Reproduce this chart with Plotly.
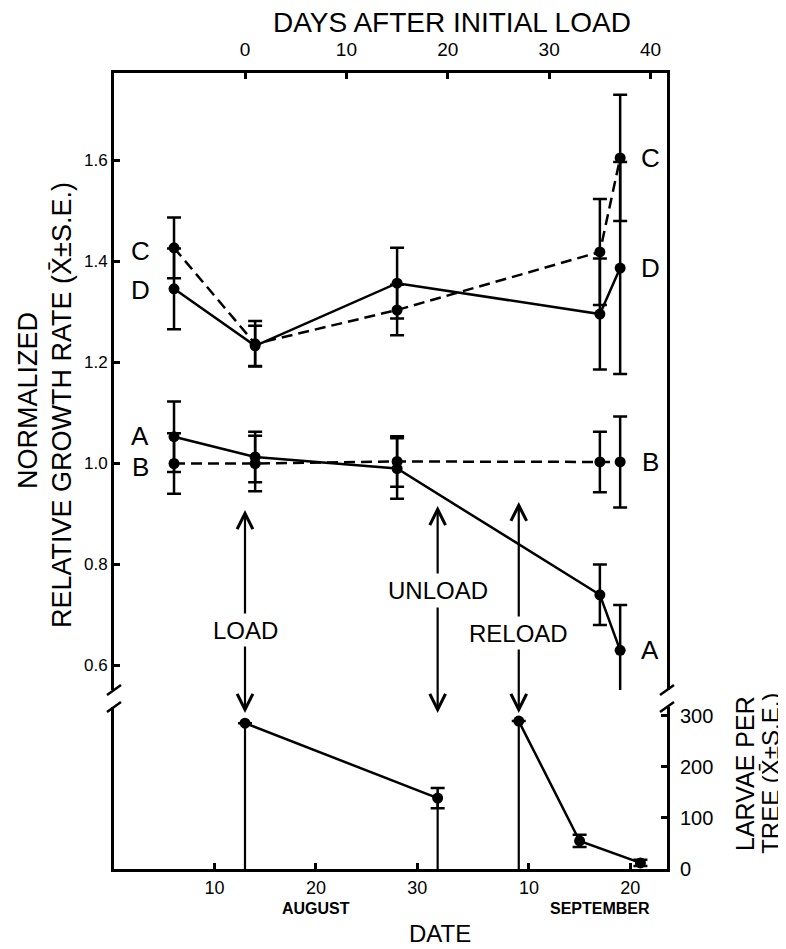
import plotly.graph_objects as go

# ---------------- data ----------------
# Top panel: normalized relative growth rate (mean, S.E.), x = days after initial load
growth_days = [-7, 1, 15, 35, 37]
A_mean = [1.053, 1.013, 0.99, 0.74, 0.63]
A_se = [0.07, 0.05, 0.06, 0.06, 0.09]
B_mean = [1.0, 1.0, 1.004, 1.003, 1.003]
B_se = [0.06, 0.055, 0.05, 0.06, 0.09]
C_mean = [1.427, 1.237, 1.304, 1.419, 1.605]
C_se = [0.06, 0.045, 0.05, 0.105, 0.125]
D_mean = [1.346, 1.233, 1.357, 1.296, 1.387]
D_se = [0.08, 0.04, 0.07, 0.11, 0.21]

# Bottom panel: larvae per tree
load_days = [0, 19]
load_larvae = [286, 139]
load_se = [None, 20]
reload_days = [27, 33, 39]
reload_larvae = [290, 55, 12]
reload_se = [None, 12, 6]

event_names = ["LOAD", "UNLOAD", "RELOAD"]
event_days = [0, 19, 27]
event_larvae = [286, 139, 290]

day_ticks = [0, 10, 20, 30, 40]
date_tick_days = [-3, 7, 17, 28, 38]
date_tick_labels = ["10", "20", "30", "10", "20"]
growth_ticks = [0.6, 0.8, 1.0, 1.2, 1.4, 1.6]
growth_tick_labels = ["0.6", "0.8", "1.0", "1.2", "1.4", "1.6"]
larvae_ticks = [0, 100, 200, 300]

# ---------------- figure ----------------
FONT = "Liberation Sans"
BLK = "black"
XR = [-12.92, 41.62]
TOP_DOM = [0.2249, 1.0]
BOT_DOM = [0.0, 0.2035]
TOP_RANGE = [0.5515, 1.7733]
BOT_RANGE = [0, 317.6]

fig = go.Figure()


def series(x, y, e, dash, xaxis, yaxis):
    fig.add_trace(go.Scatter(
        x=x, y=y, mode="lines+markers", xaxis=xaxis, yaxis=yaxis,
        line=dict(color=BLK, width=2.5, dash=dash),
        marker=dict(color=BLK, size=11),
        error_y=dict(type="data", array=e, visible=True, color=BLK,
                     thickness=2.5, width=7),
        showlegend=False, hoverinfo="skip"))


# growth-rate series use the top (days) axis
series(growth_days, A_mean, A_se, "solid", "x2", "y")
series(growth_days, B_mean, B_se, "11px,6px", "x2", "y")
series(growth_days, C_mean, C_se, "11px,6px", "x2", "y")
series(growth_days, D_mean, D_se, "solid", "x2", "y")

# vertical event lines in larvae panel
for d, v in zip(event_days, event_larvae):
    fig.add_trace(go.Scatter(x=[d, d], y=[0, v], mode="lines", xaxis="x", yaxis="y2",
                             line=dict(color=BLK, width=2.2), showlegend=False,
                             hoverinfo="skip"))

# larvae series use the right-hand axis
series(load_days, load_larvae, load_se, "solid", "x", "y3")
series(reload_days, reload_larvae, reload_se, "solid", "x", "y3")

axis_common = dict(showgrid=False, zeroline=False, showline=True, linecolor=BLK,
                   linewidth=3, tickcolor=BLK, tickwidth=2.5, ticklen=6)

# page body has an 8px margin: figure is shrunk by 8px so the plot lands in place
fig.update_layout(
    width=778, height=941,
    margin=dict(l=106, r=119, t=65, b=80),
    paper_bgcolor="white", plot_bgcolor="white",
    font=dict(family=FONT, color=BLK),
    xaxis=dict(range=XR, anchor="y2", tickvals=date_tick_days, ticktext=date_tick_labels,
               ticks="inside", tickfont=dict(size=18), **axis_common),
    xaxis2=dict(range=XR, side="top", anchor="y", tickvals=day_ticks,
                ticks="inside", tickfont=dict(size=19), ticklabelstandoff=6, **axis_common),
    yaxis=dict(domain=TOP_DOM, range=TOP_RANGE, anchor="x2", tickvals=growth_ticks,
               ticktext=growth_tick_labels, ticks="inside", mirror=True,
               tickfont=dict(size=17), **axis_common),
    yaxis2=dict(domain=BOT_DOM, range=BOT_RANGE, anchor="x", showticklabels=False,
                ticks="", **axis_common),
    yaxis3=dict(domain=BOT_DOM, range=BOT_RANGE, overlaying="y2", side="right", anchor="x",
                tickvals=larvae_ticks, ticks="inside", tickfont=dict(size=20),
                ticklabelstandoff=6, **axis_common),
)

# axis breaks
shapes = []
for px in (0, 1):
    for py in (TOP_DOM[0], BOT_DOM[1]):
        shapes.append(dict(type="line", xref="paper", yref="paper",
                           xsizemode="pixel", ysizemode="pixel",
                           xanchor=px, yanchor=py, x0=-7, x1=7, y0=-5, y1=5,
                           line=dict(color=BLK, width=2.5)))
fig.update_layout(shapes=shapes)

ann = []


def text(x, y, s, size, xref="paper", yref="paper", angle=0, bold=False, **kw):
    ann.append(dict(x=x, y=y, xref=xref, yref=yref, text=("<b>%s</b>" % s) if bold else s,
                    showarrow=False, textangle=angle, xanchor="center", yanchor="middle",
                    font=dict(family=FONT, size=size, color=BLK), **kw))


# axis titles
text(-0.1555, 0.588, "NORMALIZED", 27, angle=-90)
text(-0.094, 0.583, "RELATIVE GROWTH RATE (X\u0304\u00b1S.E.)", 27, angle=-90)
text(1.141, 0.1206, "LARVAE PER", 25, angle=-90)
text(1.186, 0.1206, "TREE (X\u0304\u00b1S.E.)", 24, angle=-90)
text(0.611, 1.064, "DAYS AFTER INITIAL LOAD", 28)
text(0.5895, -0.0805, "DATE", 24)
text(date_tick_days[1], -0.049, "AUGUST", 16, xref="x", bold=True)
text(35, -0.049, "SEPTEMBER", 16, xref="x", bold=True)

# series letters
yshift_left = {"A": 1, "B": -3, "C": -3, "D": -1}
for name, vals in (("A", A_mean), ("B", B_mean), ("C", C_mean), ("D", D_mean)):
    text(growth_days[0], vals[0], name, 26, xref="x2", yref="y", xshift=-34,
         yshift=yshift_left[name])
    text(growth_days[-1], vals[-1], name, 26, xref="x2", yref="y", xshift=30)

# event labels and arrows
label_y = {"LOAD": 0.670, "UNLOAD": 0.749, "RELOAD": 0.664}
up_head = {"LOAD": 0.908, "UNLOAD": 0.916, "RELOAD": 0.924}
up_len = {"LOAD": 105, "UNLOAD": 69, "RELOAD": 116}
down_len = {"LOAD": 68, "UNLOAD": 107, "RELOAD": 65}
for name, d in zip(event_names, event_days):
    text(d, label_y[name], name, 24, xref="x", yref="y")
    ann.append(dict(x=d, y=up_head[name], xref="x", yref="y", text="", showarrow=True,
                    ax=0, ay=up_len[name], arrowhead=5, arrowsize=1.4, arrowwidth=2.2,
                    arrowcolor=BLK))
    ann.append(dict(x=d, y=306, xref="x", yref="y2", text="", showarrow=True,
                    ax=0, ay=-down_len[name], arrowhead=5, arrowsize=1.4, arrowwidth=2.2,
                    arrowcolor=BLK))

fig.update_layout(annotations=ann)
fig.write_html("out.html")
